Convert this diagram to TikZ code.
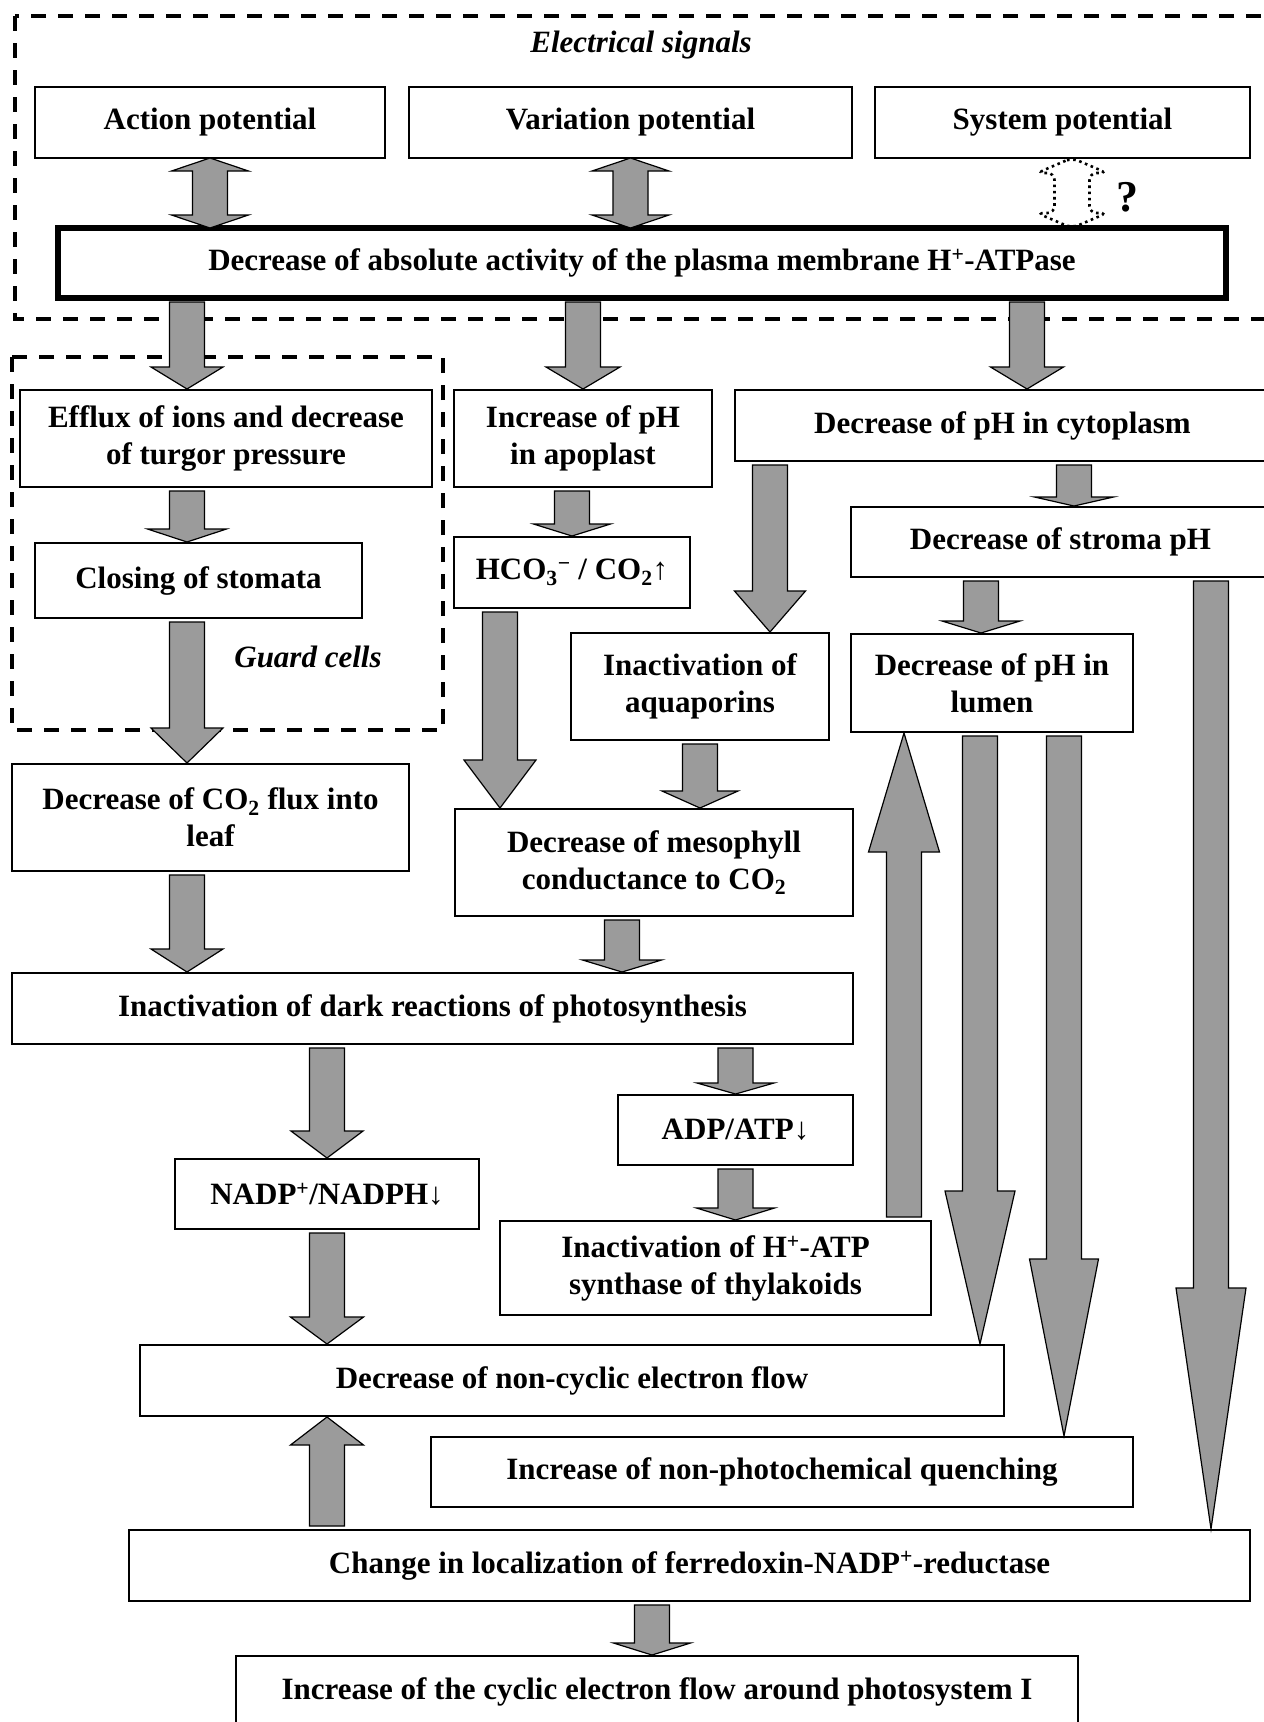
\documentclass[tikz,border=0pt]{standalone}
\usepackage{fontspec}
\setmainfont{Liberation Serif}
\usetikzlibrary{calc}

\definecolor{arrowgray}{RGB}{155,155,155}

\tikzset{every picture/.style={line width=0.75pt}}
\tikzset{
  box/.style={draw, line width=2pt, inner sep=0pt, outer sep=0pt, anchor=north west,
    align=center, font=\fontsize{31}{37}\selectfont\bfseries},
  heavybox/.style={box, line width=6pt},
  groupframe/.style={line width=3.3pt, dash pattern=on 15pt off 12pt},
  fatarrow/.style={draw, line width=1.2pt, fill=arrowgray},
  guessarrow/.style={draw, line width=2.6pt, dash pattern=on 2.6pt off 3.6pt, rounded corners=7pt},
  caption/.style={inner sep=0pt, font=\fontsize{31}{36}\selectfont\bfseries\itshape},
}

% block arrow: #1 from, #2 to, #3 head length, #4 half head width
\newcommand{\blockarrow}[4]{%
  \coordinate (ba-s) at ($(#1)!4pt!(#2)$);
  \coordinate (ba-e) at ($(#2)!1pt!(#1)$);
  \coordinate (ba-h) at ($(ba-e)!#3!(ba-s)$);
  \draw[fatarrow] ($(ba-s)!17.5pt!90:(ba-e)$) -- ($(ba-h)!17.5pt!-90:(ba-s)$)
    -- ($(ba-h)!#4!-90:(ba-s)$) -- (ba-e) -- ($(ba-h)!#4!90:(ba-s)$)
    -- ($(ba-h)!17.5pt!90:(ba-s)$) -- ($(ba-s)!17.5pt!-90:(ba-e)$) -- cycle;}

% double block arrow: #1 style, #2 and #3 ends, #4 head length, #5 half head width
\newcommand{\blockdouble}[5]{%
  \coordinate (bd-s) at (#2);
  \coordinate (bd-e) at (#3);
  \coordinate (bd-t) at ($(bd-s)!#4!(bd-e)$);
  \coordinate (bd-h) at ($(bd-e)!#4!(bd-s)$);
  \draw[#1] (bd-s) -- ($(bd-t)!#5!90:(bd-e)$) -- ($(bd-t)!17.5pt!90:(bd-e)$)
    -- ($(bd-h)!17.5pt!-90:(bd-s)$) -- ($(bd-h)!#5!-90:(bd-s)$) -- (bd-e)
    -- ($(bd-h)!#5!90:(bd-s)$) -- ($(bd-h)!17.5pt!90:(bd-s)$)
    -- ($(bd-t)!17.5pt!-90:(bd-e)$) -- ($(bd-t)!#5!-90:(bd-e)$) -- cycle;}

\begin{document}
\begin{tikzpicture}[x=1pt,y=1pt,yscale=-1,xscale=1]
	\useasboundingbox (0,0) rectangle (1264,1722);
	
	%Dashed frames
	\draw[groupframe] (15,16) rectangle (1280,319);
	\draw[groupframe] (12,357) rectangle (443,730);
	
	% Text Node
	\node[caption] (elec) at (641,45) {Electrical signals};
	% Text Node
	\node[caption] (guard) at (308,657) {Guard cells};
	% Text Node
	\node[inner sep=0pt, font=\fontsize{44}{48}\selectfont\bfseries] (qmark) at (1127,197) {?};
	
	% Boxes
	\node[box, minimum width=350, minimum height=71] (ap) at (35,87) {Action potential};
	\node[box, minimum width=443, minimum height=71] (vp) at (409,87) {Variation potential};
	\node[box, minimum width=375, minimum height=71] (sp) at (875,87) {System potential};
	\node[heavybox, minimum width=1168, minimum height=70] (atp) at (58,228) {Decrease of absolute activity of the plasma membrane H\textsuperscript{+}-ATPase};
	\node[box, minimum width=412, minimum height=97] (efflux) at (20,390) {Efflux of ions and decrease\\of turgor pressure};
	\node[box, minimum width=258, minimum height=97] (apoplast) at (454,390) {Increase of pH\\in apoplast};
	\node[box, minimum width=535, minimum height=71] (cyto) at (735,390) {Decrease of pH in cytoplasm};
	\node[box, minimum width=327, minimum height=75] (closing) at (35,543) {Closing of stomata};
	\node[box, minimum width=236, minimum height=71] (hco) at (454,537) {HCO\textsubscript{3}\textsuperscript{−} / CO\textsubscript{2}↑};
	\node[box, minimum width=419, minimum height=70] (stroma) at (851,507) {Decrease of stroma pH};
	\node[box, minimum width=258, minimum height=107] (aqua) at (571,633) {Inactivation of\\aquaporins};
	\node[box, minimum width=282, minimum height=98] (lumen) at (851,634) {Decrease of pH in\\lumen};
	\node[box, minimum width=397, minimum height=107] (flux) at (12,764) {Decrease of CO\textsubscript{2} flux into\\leaf};
	\node[box, minimum width=398, minimum height=107] (meso) at (455,809) {Decrease of mesophyll\\conductance to CO\textsubscript{2}};
	\node[box, minimum width=841, minimum height=71] (dark) at (12,973) {Inactivation of dark reactions of photosynthesis};
	\node[box, minimum width=235, minimum height=70] (adp) at (618,1095) {ADP/ATP↓};
	\node[box, minimum width=304, minimum height=70] (nadp) at (175,1159) {NADP\textsuperscript{+}/NADPH↓};
	\node[box, minimum width=431, minimum height=94] (synth) at (500,1221) {Inactivation of H\textsuperscript{+}-ATP\\synthase of thylakoids};
	\node[box, minimum width=864, minimum height=71] (noncyc) at (140,1345) {Decrease of non-cyclic electron flow};
	\node[box, minimum width=702, minimum height=70] (npq) at (431,1437) {Increase of non-photochemical quenching};
	\node[box, minimum width=1121, minimum height=71] (fnr) at (129,1530) {Change in localization of ferredoxin-NADP\textsuperscript{+}-reductase};
	\node[box, minimum width=842, minimum height=72] (cyclic) at (236,1656) {Increase of the cyclic electron flow around photosystem I};
	
	% Arrow columns
	\coordinate (guardcol) at (187,0);
	\coordinate (cytocol) at (1027,0);
	\coordinate (hcocol) at (500,0);
	\coordinate (aquacol) at (770,0);
	\coordinate (stromacol) at (1074,0);
	\coordinate (lumencol) at (981,0);
	\coordinate (longcol) at (1211,0);
	\coordinate (mesocol) at (622,0);
	\coordinate (upcol) at (904,0);
	\coordinate (ncfcol) at (980,0);
	\coordinate (npqcol) at (1064,0);
	\coordinate (fnrcol) at (652,0);
	\coordinate (spcol) at (1072,0);
	
	% Double arrows
	\blockdouble{fatarrow}{ap.south}{atp.north -| ap.south}{13pt}{38.5pt}
	\blockdouble{fatarrow}{vp.south}{atp.north -| vp.south}{13pt}{38.5pt}
	\blockdouble{guessarrow}{sp.south -| spcol}{atp.north -| spcol}{15pt}{35pt}
	
	% Block arrows
	\blockarrow{atp.south -| guardcol}{efflux.north -| guardcol}{22pt}{36pt}
	\blockarrow{atp.south -| apoplast.north}{apoplast.north}{22pt}{37pt}
	\blockarrow{atp.south -| cytocol}{cyto.north -| cytocol}{22pt}{36.5pt}
	\blockarrow{efflux.south -| guardcol}{closing.north -| guardcol}{13pt}{39.5pt}
	\blockarrow{closing.south -| guardcol}{flux.north -| guardcol}{35pt}{36pt}
	\blockarrow{apoplast.south -| hco.north}{hco.north}{12pt}{38.5pt}
	\blockarrow{hco.south -| hcocol}{meso.north -| hcocol}{48pt}{36pt}
	\blockarrow{cyto.south -| aquacol}{aqua.north -| aquacol}{41pt}{35.5pt}
	\blockarrow{cyto.south -| stromacol}{stroma.north -| stromacol}{9pt}{39.5pt}
	\blockarrow{stroma.south -| lumencol}{lumen.north -| lumencol}{12pt}{39pt}
	\blockarrow{stroma.south -| longcol}{fnr.north -| longcol}{241pt}{35pt}
	\blockarrow{aqua.south}{meso.north -| aqua.south}{17pt}{38pt}
	\blockarrow{flux.south -| guardcol}{dark.north -| guardcol}{23pt}{36pt}
	\blockarrow{meso.south -| mesocol}{dark.north -| mesocol}{12pt}{39.5pt}
	\blockarrow{dark.south -| nadp.north}{nadp.north}{27pt}{36pt}
	\blockarrow{dark.south -| adp.north}{adp.north}{11pt}{38.5pt}
	\blockarrow{adp.south}{synth.north -| adp.south}{12pt}{39pt}
	\blockarrow{synth.north -| upcol}{lumen.south -| upcol}{119pt}{35.5pt}
	\blockarrow{lumen.south -| ncfcol}{noncyc.north -| ncfcol}{153pt}{35pt}
	\blockarrow{lumen.south -| npqcol}{npq.north -| npqcol}{177pt}{34.5pt}
	\blockarrow{nadp.south}{noncyc.north -| nadp.south}{27pt}{36.5pt}
	\blockarrow{fnr.north -| nadp.south}{noncyc.south -| nadp.south}{28pt}{36.5pt}
	\blockarrow{fnr.south -| fnrcol}{cyclic.north -| fnrcol}{12pt}{38.5pt}
	
\end{tikzpicture}
\end{document}
